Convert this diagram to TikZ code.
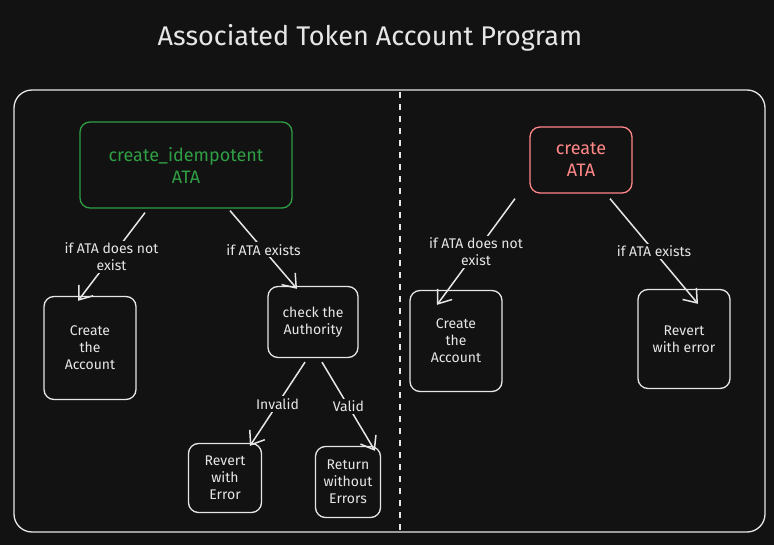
\documentclass[tikz,border=0pt]{standalone}
\usepackage{fontspec}
\setmainfont{Fira Sans}
\usetikzlibrary{arrows.meta}
\definecolor{bg}{HTML}{121212}
\definecolor{ink}{HTML}{E6E6E6}
\definecolor{grn}{HTML}{2F9E44}
\definecolor{rd}{HTML}{FF8787}
\tikzset{
  box/.style={draw=ink, line width=1.3pt, rounded corners=10pt, text=ink, align=center, font=\fontsize{14}{17}\selectfont},
  arr/.style={draw=ink, line width=1.5pt, -{Straight Barb[length=12pt,width=18pt]}},
  lbl/.style={fill=bg, text=ink, align=center, inner sep=2pt, font=\fontsize{14}{17}\selectfont}
}
\begin{document}
\begin{tikzpicture}[x=1pt, y=-1pt]
  \fill[bg] (0,0) rectangle (774,545);
  \useasboundingbox (0,0) rectangle (774,545);
  \node[text=ink, font=\fontsize{27}{31}\selectfont] (title) at (370,38) {Associated Token Account Program};
  \draw[ink, line width=1.3pt, rounded corners=18pt] (14,90) rectangle (765,532);
  \draw[ink, line width=1.3pt, dash pattern=on 6pt off 6pt] (400,92) -- (400,530);
  % left side
  \node[box, draw=grn, text=grn, minimum width=212pt, minimum height=86pt, font=\fontsize{18}{22}\selectfont] (idem) at (186,165) {create\_idempotent\\ATA};
  \node[box, minimum width=92pt, minimum height=103pt] (accL) at (90,348) {Create\\the\\Account};
  \node[box, minimum width=90pt, minimum height=71pt] (auth) at (313,322) {check the\\Authority};
  \node[box, minimum width=73pt, minimum height=69pt] (revL) at (225,478) {Revert\\with\\Error};
  \node[box, minimum width=65pt, minimum height=71pt] (ret) at (348,482) {Return\\without\\Errors};
  % right side
  \node[box, draw=rd, text=rd, minimum width=102pt, minimum height=66pt, font=\fontsize{18}{22}\selectfont] (crt) at (581,160) {create\\ATA};
  \node[box, minimum width=92pt, minimum height=101pt] (accR) at (456,341) {Create\\the\\Account};
  \node[box, minimum width=92pt, minimum height=99pt] (revR) at (684,339) {Revert\\with error};
  % connectors
  \draw[arr] ([xshift=-41pt,yshift=-4pt]idem.south) -- node[lbl] {if ATA does not\\exist} ([xshift=-12pt,yshift=-5pt]accL.north);
  \draw[arr] ([xshift=44pt,yshift=-2pt]idem.south) -- node[lbl] {if ATA exists} ([xshift=-16pt,yshift=-3pt]auth.north);
  \draw[arr] ([xshift=-8pt,yshift=-4pt]auth.south) -- node[lbl] {Invalid} ([xshift=25pt,yshift=-3pt]revL.north);
  \draw[arr] ([xshift=9pt,yshift=-4pt]auth.south) -- node[lbl] {Valid} ([xshift=27pt,yshift=-5pt]ret.north);
  \draw[arr] ([xshift=-66pt,yshift=-5pt]crt.south) -- node[lbl] {if ATA does not\\exist} ([xshift=-19pt,yshift=-15pt]accR.north);
  \draw[arr] ([xshift=29pt,yshift=-5pt]crt.south) -- node[lbl] {if ATA exists} ([xshift=14pt,yshift=-15pt]revR.north);
\end{tikzpicture}
\end{document}
